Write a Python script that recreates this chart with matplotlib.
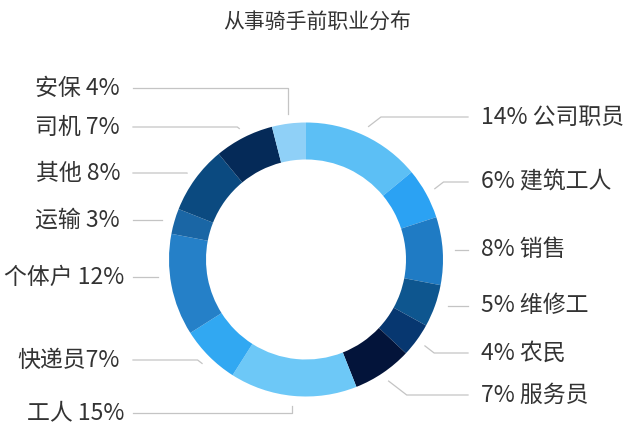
import numpy as np
import matplotlib
matplotlib.use('Agg')
import matplotlib.pyplot as plt

plt.rcParams['font.family'] = ['Noto Sans CJK SC', 'DejaVu Sans']

# data, clockwise from 12 o'clock
jobs = ['公司职员', '建筑工人', '销售', '维修工', '农民', '服务员', '工人',
        '快递员', '个体户', '运输', '其他', '司机', '安保']
share = [14, 6, 8, 5, 4, 7, 15, 7, 12, 3, 8, 7, 4]
colors = ['#5cbff5', '#2ba2f3', '#1f7bc4', '#0e568f', '#073770', '#03143a', '#6dc8f7',
          '#31a8f2', '#2580c8', '#1a66a5', '#0b4a80', '#052a58', '#8fd0f7']

# label layout (pixel coords, y from top)
label_y = [117, 182, 250, 306, 353, 395, 413, 360, 277, 220, 173, 127, 88]
side = ['R', 'R', 'R', 'R', 'R', 'R', 'L', 'L', 'L', 'L', 'L', 'L', 'L']
# line style: d = elbow, h = straight horizontal, v = vertical then horizontal
style = ['d', 'd', 'h', 'h', 'd', 'd', 'v', 'd', 'h', 'h', 'd', 'd', 'v']

W, H = 634, 441
fig = plt.figure(figsize=(W / 100, H / 100), dpi=100)
ax = fig.add_axes([0, 0, 1, 1])

cx, cy, R = 306, H - 259.5, 137
wedges, _ = ax.pie(share, colors=colors, startangle=90, counterclock=False,
                   center=(cx, cy), radius=R, frame=True,
                   wedgeprops=dict(width=37, linewidth=0))
ax.set_xlim(0, W)
ax.set_ylim(0, H)
ax.set_aspect('equal')
ax.axis('off')

fig.text(0.5, 1 - 23 / H, '从事骑手前职业分布', ha='center', va='center',
         fontsize=15, color='#333333')

line_c = '#c4c4c4'
for w, name, pct, ly, s, st in zip(wedges, jobs, share, label_y, side, style):
    ang = np.deg2rad((w.theta1 + w.theta2) / 2)
    y = H - ly
    sgn = 1 if s == 'R' else -1
    end = 468 if s == 'R' else 133
    if st == 'h':
        r = R + 12
        x0 = cx + sgn * np.sqrt(r ** 2 - (y - cy) ** 2)
        ax.plot([x0, end], [y, y], color=line_c, lw=0.9)
    else:
        ax_ = cx + (R + 10) * np.cos(ang)
        ay_ = cy + (R + 10) * np.sin(ang)
        if st == 'v':
            ex = ax_
        else:
            ex = ax_ + sgn * abs(y - ay_) * 1.3
        ax.plot([ax_, ex, end], [ay_, y, y], color=line_c, lw=0.9)
    if s == 'R':
        ax.text(481, y, f'{pct}% {name}', ha='left', va='center',
                fontsize=16.5, color='#333333')
    else:
        txt = f'{name}{pct}%' if name == '快递员' else f'{name} {pct}%'
        ax.text(120 if pct < 10 else 124, y, txt, ha='right', va='center',
                fontsize=16.5, color='#333333')

fig.savefig('out.png', dpi=100, facecolor='white')
